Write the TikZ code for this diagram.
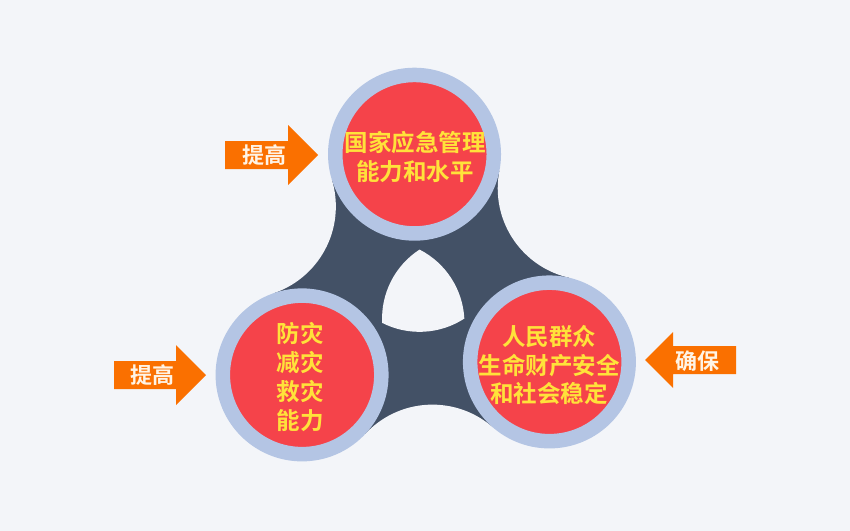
\documentclass[tikz,border=0pt]{standalone}
\usepackage{fontspec}
\newfontfamily\cjk{Noto Sans CJK SC}[BoldFont={Noto Sans CJK SC Bold}]
\usetikzlibrary{calc}
\definecolor{bgc}{HTML}{F3F5F9}
\definecolor{darkc}{HTML}{435166}
\definecolor{ringc}{HTML}{B4C5E4}
\definecolor{redc}{HTML}{F5434A}
\definecolor{yelc}{HTML}{FFE23A}
\definecolor{orc}{HTML}{FA7000}
\definecolor{arrtxt}{HTML}{FFF4E6}
\tikzset{
  ball/.style={circle, fill=redc, draw=ringc, line width=14.5pt, minimum size=158.5pt, inner sep=0pt},
  lbl/.style={align=center, text=yelc, font=\cjk\bfseries\fontsize{23.5pt}{28.7pt}\selectfont, inner sep=0pt},
  atext/.style={text=arrtxt, font=\cjk\bfseries\fontsize{22pt}{26pt}\selectfont, inner sep=0pt},
  arrowc/.style={fill=orc}
}
\begin{document}
\begin{tikzpicture}[x=1pt,y=1pt]
\useasboundingbox (0,0) rectangle (850,-530);
\clip (0,0) rectangle (850,-530);
\fill[bgc] (-5,5) rectangle (855,-535);
\coordinate (O) at (422,-297);
\coordinate (C1) at ($(O)+(93:143)$);
\coordinate (C2) at ($(O)+(213:143)$);
\coordinate (C3) at ($(O)+(333:143)$);
\coordinate (K1) at ($(O)+(153:199.5)$);
\coordinate (K2) at ($(O)+(273:199.5)$);
\coordinate (K3) at ($(O)+(33:199.5)$);
\coordinate (H1) at ($(O)+(93:47.5)$);
% dark tri-lobed body
\fill[darkc] (C1) -- (K1) -- (C2) -- (K2) -- (C3) -- (K3) -- cycle;
\fill[bgc] (K1) circle[radius=91.6];
\fill[bgc] (K2) circle[radius=91.6];
\fill[bgc] (K3) circle[radius=91.6];
% central Reuleaux hole
\fill[bgc] (H1) arc[start angle=123, end angle=183, radius=82.27]
  arc[start angle=243, end angle=303, radius=82.27]
  arc[start angle=3, end angle=63, radius=82.27] -- cycle;
% circles
\node[ball] (b1) at (C1) {};
\node[ball] (b2) at (C2) {};
\node[ball] (b3) at (C3) {};
\node[lbl] (t1) at (415,-157) {国家应急管理\\能力和水平};
\node[lbl] (t2) at (300,-377) {防灾\\减灾\\救灾\\能力};
\node[lbl] (t3) at (549,-365) {人民群众\\生命财产安全\\和社会稳定};
% arrows
\fill[arrowc] (318,-155) -- (288,-185) -- (288,-169) -- (225,-169) -- (225,-141) -- (288,-141) -- (288,-125) -- cycle;
\fill[arrowc] (206,-375) -- (176,-405) -- (176,-389) -- (114,-389) -- (114,-361) -- (176,-361) -- (176,-345) -- cycle;
\fill[arrowc] (645,-360) -- (673,-388) -- (673,-374) -- (736,-374) -- (736,-346) -- (673,-346) -- (673,-332) -- cycle;
\node[atext] (a1) at (264,-155) {提高};
\node[atext] (a2) at (152,-375) {提高};
\node[atext] (a3) at (697,-361) {确保};
\end{tikzpicture}
\end{document}
